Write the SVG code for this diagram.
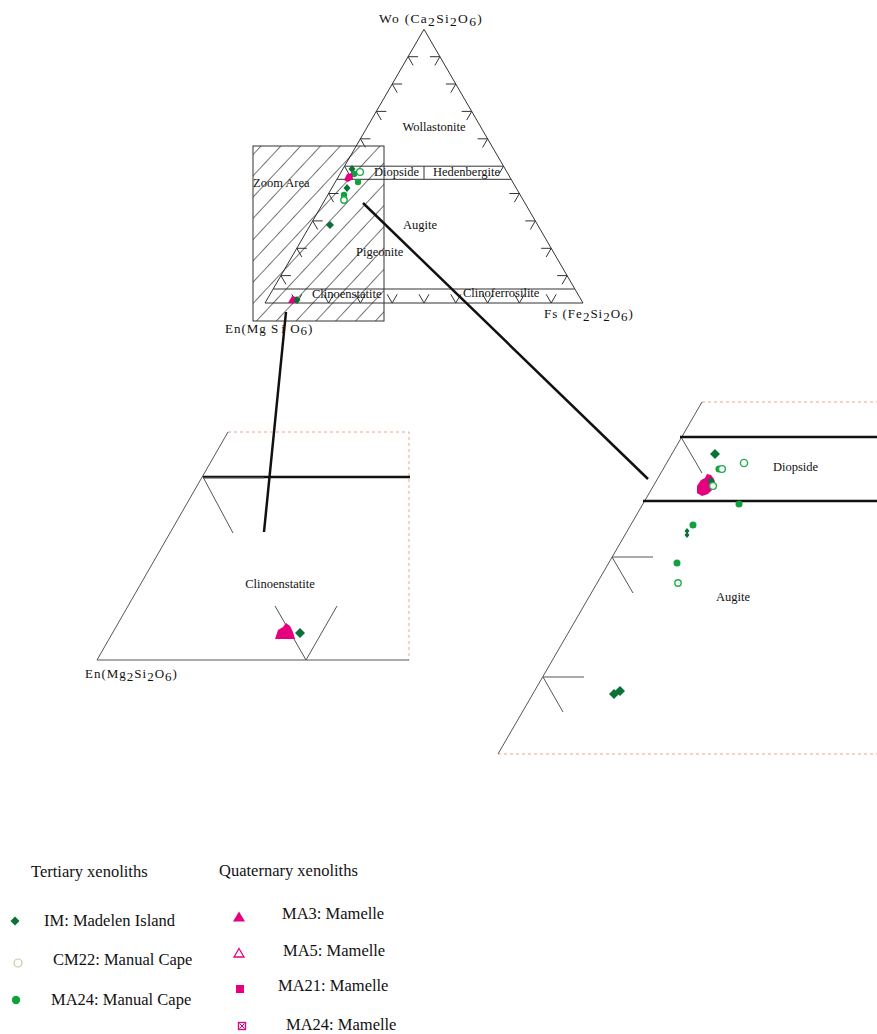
<svg xmlns="http://www.w3.org/2000/svg" width="877" height="1034" viewBox="0 0 877 1034">
<style>
text{font-family:"Liberation Serif","Times New Roman",serif;fill:#111}
.lbl{font-size:12.5px}
.leg{font-size:16.5px}
.frm{font-size:13.5px;letter-spacing:1.3px}
.edge{fill:none;stroke:#333;stroke-width:1}
.pedge{fill:none;stroke:#555;stroke-width:1}
.thick{fill:none;stroke:#111;stroke-width:2.5}
.dash{fill:none;stroke:#f4a385;stroke-width:1;stroke-dasharray:3 3}
.dg{fill:#0a7236}
.gc{fill:#12a03c}
.oc{fill:#fff;stroke:#1fae4b;stroke-width:1.4}
.mg{fill:#e4007f}
</style>
<defs>
<pattern id="hatch" patternUnits="userSpaceOnUse" width="14.5" height="14.5" patternTransform="rotate(43)">
<line x1="0" y1="0" x2="0" y2="14.5" stroke="#1a1a1a" stroke-width="1.2"/>
</pattern>
</defs>
<rect width="877" height="1034" fill="#fff"/>

<g id="main-triangle">
<polygon class="edge" points="424,29.3 265,303 583,303"/>
<path class="edge" d="M344.5,166.2H503.5M337,179.3H511M424,166.2V179.3M273.3,289H574.7"/>
<path class="edge" d="M408.1,56.7h10M408.1,56.7l5,8.66M392.2,84h10M392.2,84l5,8.66M376.3,111.4h10M376.3,111.4l5,8.66M360.4,138.8h10M360.4,138.8l5,8.66M344.5,166.2l5,8.66M328.6,193.5h10M328.6,193.5l5,8.66M312.7,220.9h10M312.7,220.9l5,8.66M296.8,248.3h10M296.8,248.3l5,8.66M280.9,275.6h10M280.9,275.6l5,8.66
M439.9,56.7h-10M439.9,56.7l-5,8.66M455.8,84h-10M455.8,84l-5,8.66M471.7,111.4h-10M471.7,111.4l-5,8.66M487.6,138.8h-10M487.6,138.8l-5,8.66M503.5,166.2l-5,8.66M519.4,193.5h-10M519.4,193.5l-5,8.66M535.3,220.9h-10M535.3,220.9l-5,8.66M551.2,248.3h-10M551.2,248.3l-5,8.66M567.1,275.6h-10M567.1,275.6l-5,8.66
M296.8,303l-5,-8.66M296.8,303l5,-8.66M328.6,303l-5,-8.66M328.6,303l5,-8.66M360.4,303l-5,-8.66M360.4,303l5,-8.66M392.2,303l-5,-8.66M392.2,303l5,-8.66M424,303l-5,-8.66M424,303l5,-8.66M455.8,303l-5,-8.66M455.8,303l5,-8.66M487.6,303l-5,-8.66M487.6,303l5,-8.66M519.4,303l-5,-8.66M519.4,303l5,-8.66M551.2,303l-5,-8.66M551.2,303l5,-8.66"/>
<text class="frm" x="379" y="23">Wo (Ca<tspan dy="3">2</tspan><tspan dy="-3">Si</tspan><tspan dy="3">2</tspan><tspan dy="-3">O</tspan><tspan dy="3">6</tspan><tspan dy="-3">)</tspan></text>
<text class="frm" x="544" y="318" style="font-size:13px;letter-spacing:1px">Fs (Fe<tspan dy="3">2</tspan><tspan dy="-3">Si</tspan><tspan dy="3">2</tspan><tspan dy="-3">O</tspan><tspan dy="3">6</tspan><tspan dy="-3">)</tspan></text>
<text class="frm" x="225" y="333" style="font-size:13px;letter-spacing:1px">En(Mg  S<tspan dx="2">i</tspan> O<tspan dy="2">6</tspan><tspan dy="-2">)</tspan></text>
<text class="lbl" x="434" y="131" text-anchor="middle">Wollastonite</text>
<text class="lbl" x="374" y="176">Diopside</text>
<text class="lbl" x="433" y="176">Hedenbergite</text>
<text class="lbl" x="420" y="229" text-anchor="middle">Augite</text>
<text class="lbl" x="356" y="256">Pigeonite</text>
<text class="lbl" x="312" y="298">Clinoenstatite</text>
<text class="lbl" x="463" y="297">Clinoferrosilite</text>
</g>

<g id="zoom-area">
<rect x="253" y="146" width="131" height="175" fill="url(#hatch)" stroke="#333" stroke-width="1"/>
<text class="lbl" x="253" y="187">Zoom Area</text>
</g>

<g id="main-data">
<polygon class="dg" points="352,165 355.5,169 352,173 348.5,169"/>
<circle class="oc" cx="360" cy="172" r="3.4"/>
<circle class="gc" cx="354" cy="174" r="3.2"/>
<path class="mg" d="M344,180 L347,174 L352,173 L353,179 L348,182 Z"/>
<circle class="gc" cx="358" cy="182" r="3.2"/>
<polygon class="dg" points="347,184 350.5,188 347,192 343.5,188"/>
<circle class="gc" cx="344" cy="195" r="3.2"/>
<circle class="oc" cx="344" cy="200" r="3.2"/>
<polygon class="dg" points="330,221 334,225 330,229 326,225"/>
<path class="mg" d="M288,303 L292,296 L296,297 L298,303 Z"/>
<polygon class="dg" points="297,296 300.5,300 297,304 293.5,300"/>
</g>

<g id="connectors">
<line class="thick" x1="286" y1="312" x2="264" y2="532"/>
<line class="thick" x1="363" y1="203" x2="648" y2="479"/>
</g>

<g id="left-panel">
<path class="dash" d="M228,432H409V660"/>
<path class="pedge" d="M97,660L228,432M97,660H409M203,477L233,533M306,660L275,606M306,660L337,606"/>
<line class="thick" x1="203" y1="477" x2="410" y2="477"/>
<line x1="203" y1="478" x2="264" y2="478" stroke="#777" stroke-width="1.2"/>
<text class="lbl" x="280" y="588" text-anchor="middle">Clinoenstatite</text>
<text class="frm" x="85" y="678" style="font-size:13px;letter-spacing:1px">En(Mg<tspan dy="3">2</tspan><tspan dy="-3">Si</tspan><tspan dy="3">2</tspan><tspan dy="-3">O</tspan><tspan dy="3">6</tspan><tspan dy="-3">)</tspan></text>
<path class="mg" d="M275,639 L278,630 L283,627 L286,623 L290,626 L293,632 L295,639 Z"/>
<polygon class="dg" points="300,628 305,633 300,638 295,633"/>
</g>

<g id="right-panel">
<path class="dash" d="M702,402H877M498,754H877"/>
<path class="pedge" d="M702,402L498,754M681,437L702,473M612,557H653M612,557L633,593M543,677H584M543,677L563,712"/>
<line class="thick" x1="680" y1="437" x2="877" y2="437"/>
<line class="thick" x1="643" y1="501" x2="877" y2="501"/>
<text class="lbl" x="773" y="471">Diopside</text>
<text class="lbl" x="716" y="601">Augite</text>
<polygon class="dg" points="715,449 720,454 715,459 710,454"/>
<circle class="gc" cx="719" cy="469" r="3.5"/>
<circle class="oc" cx="722" cy="469" r="3.4"/>
<circle class="oc" cx="744" cy="463" r="3.6"/>
<path class="mg" d="M697,493 L697,486 L701,480 L705,478 L707,474 L711,475 L714,479 L716,486 L712,490 L708,494 L702,496 Z"/>
<polygon class="dg" points="711,477 714.5,481 711,485 707.5,481"/>
<circle class="oc" cx="713" cy="486" r="3.4"/>
<circle class="gc" cx="739" cy="504" r="3.5"/>
<circle class="gc" cx="693" cy="525" r="3.5"/>
<polygon class="dg" points="687,528 689.5,531 687,534 684.5,531"/>
<polygon class="dg" points="687,532 689.5,535 687,538 684.5,535"/>
<circle class="gc" cx="677" cy="563" r="3.5"/>
<circle class="oc" cx="678" cy="583" r="3.2"/>
<polygon class="dg" points="614,689 619,694 614,699 609,694"/>
<polygon class="dg" points="620,686 625,691 620,696 615,691"/>
</g>

<g id="legend">
<text class="leg" x="31" y="877">Tertiary xenoliths</text>
<text class="leg" x="219" y="876">Quaternary xenoliths</text>
<polygon class="dg" points="15,916.5 19.5,921 15,925.5 10.5,921"/>
<text class="leg" x="44" y="926">IM: Madelen Island</text>
<circle cx="18" cy="963" r="4" fill="#fff" stroke="#c8c6a6" stroke-width="1.2"/>
<text class="leg" x="53" y="965">CM22: Manual Cape</text>
<circle class="gc" cx="16" cy="1000" r="4.2"/>
<text class="leg" x="51" y="1005">MA24: Manual Cape</text>
<polygon class="mg" points="239,911.5 245,921.5 233,921.5"/>
<text class="leg" x="282" y="919">MA3: Mamelle</text>
<polygon points="239,948.5 244,957 234,957" fill="#fff" stroke="#e4007f" stroke-width="1.3"/>
<text class="leg" x="283" y="956">MA5: Mamelle</text>
<rect class="mg" x="236" y="985" width="8" height="8"/>
<text class="leg" x="278" y="991">MA21: Mamelle</text>
<rect x="238.5" y="1022.5" width="7" height="7" fill="#fff" stroke="#e4007f" stroke-width="1.3"/>
<path d="M239.5,1023.5l5,5M244.5,1023.5l-5,5" stroke="#e4007f" stroke-width="1"/>
<text class="leg" x="286" y="1030">MA24: Mamelle</text>
</g>
</svg>
